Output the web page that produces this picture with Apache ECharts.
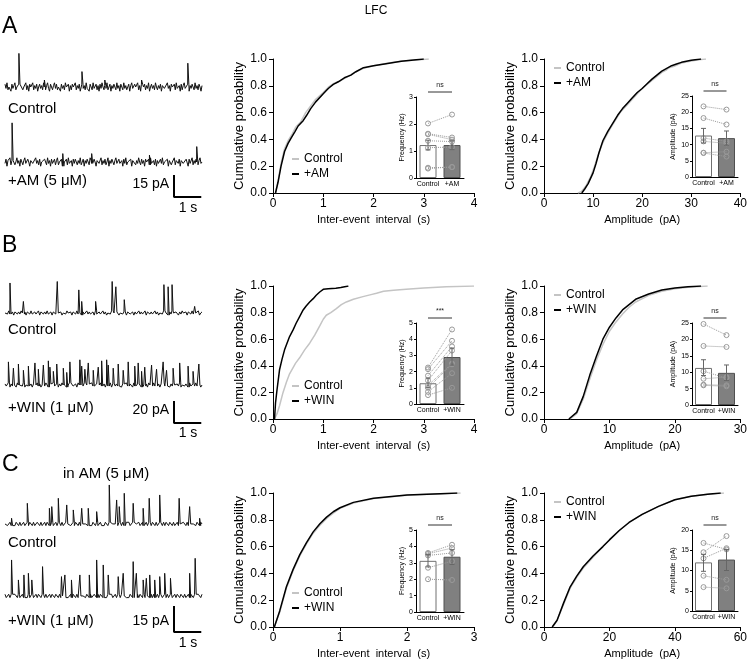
<!DOCTYPE html>
<html><head><meta charset="utf-8">
<script src="https://cdn.jsdelivr.net/npm/echarts/dist/echarts.min.js"></script>
<style>html,body{margin:0;padding:0;background:#fff}#c{width:750px;height:662px}</style>
</head><body><div id="c"></div><script>
// ---------------- DATA ----------------
// Cumulative distributions: [x, cumulative probability]
const aIeiCtrl = [[0.05,0],[0.1,0.09],[0.16,0.22],[0.23,0.33],[0.3,0.39],[0.38,0.44],[0.45,0.49],[0.55,0.53],[0.65,0.6],[0.75,0.65],[0.85,0.7],[1.0,0.75],[1.1,0.79],[1.2,0.815],[1.35,0.84],[1.5,0.87],[1.65,0.905],[1.8,0.93],[2.0,0.95],[2.3,0.97],[2.6,0.985],[2.9,0.995],[3.1,1.0]];
const aIeiDrug = [[0.05,0],[0.1,0.08],[0.16,0.2],[0.23,0.31],[0.3,0.37],[0.36,0.41],[0.44,0.46],[0.5,0.5],[0.6,0.54],[0.67,0.58],[0.75,0.63],[0.85,0.68],[1.0,0.74],[1.1,0.78],[1.2,0.81],[1.3,0.83],[1.42,0.86],[1.55,0.88],[1.65,0.905],[1.8,0.935],[2.0,0.95],[2.25,0.965],[2.55,0.983],[2.8,0.993],[3.0,1.0]];
const aAmpCtrl = [[6.9,0],[7.6,0.01],[8.5,0.05],[9.5,0.12],[10.3,0.2],[11,0.28],[11.8,0.36],[12.6,0.42],[13.5,0.48],[14.5,0.54],[15.5,0.6],[16.5,0.64],[18,0.7],[19,0.74],[20,0.78],[21,0.81],[22,0.84],[23,0.87],[24,0.9],[25,0.92],[25.5,0.935],[26.5,0.945],[28,0.97],[30,0.985],[31.5,0.995],[33,1.0]];
const aAmpDrug = [[7.7,0],[8.3,0.03],[9,0.07],[10,0.15],[10.6,0.22],[11.2,0.3],[12,0.39],[13,0.46],[14,0.52],[15,0.58],[16,0.63],[17,0.67],[18,0.71],[19,0.75],[20,0.78],[21,0.815],[22,0.85],[23,0.88],[24,0.91],[25,0.93],[26,0.95],[27,0.963],[28,0.975],[30,0.99],[32,1.0]];
const bIeiCtrl = [[0.03,0],[0.08,0.04],[0.13,0.1],[0.2,0.2],[0.27,0.28],[0.33,0.34],[0.45,0.42],[0.53,0.46],[0.63,0.52],[0.73,0.57],[0.83,0.63],[0.93,0.7],[1.0,0.75],[1.06,0.78],[1.15,0.8],[1.26,0.83],[1.36,0.86],[1.46,0.88],[1.6,0.9],[1.79,0.92],[1.95,0.935],[2.06,0.945],[2.2,0.96],[2.4,0.968],[2.65,0.975],[3.0,0.985],[3.45,0.995],[4.0,1.0]];
const bIeiDrug = [[0.03,0],[0.05,0.12],[0.08,0.22],[0.13,0.37],[0.18,0.45],[0.23,0.52],[0.33,0.62],[0.4,0.67],[0.46,0.72],[0.53,0.77],[0.6,0.82],[0.66,0.85],[0.73,0.88],[0.8,0.905],[0.86,0.93],[0.93,0.955],[1.0,0.975],[1.1,0.98],[1.25,0.983],[1.35,0.988],[1.5,1.0]];
const bAmpCtrl = [[4,0],[5,0.04],[6,0.15],[7,0.3],[8,0.44],[9,0.56],[10,0.66],[11,0.73],[12,0.79],[13,0.84],[14,0.88],[16,0.93],[18,0.96],[20,0.98],[22,0.99],[25,1.0]];
const bAmpDrug = [[3.8,0],[5,0.05],[6,0.17],[7,0.33],[8,0.47],[9,0.6],[10,0.69],[11,0.76],[12,0.82],[13,0.86],[14,0.9],[16,0.94],[18,0.97],[20,0.985],[22,0.995],[24,1.0]];
const cIeiCtrl = [[0.02,0],[0.1,0.11],[0.2,0.29],[0.3,0.42],[0.4,0.53],[0.5,0.62],[0.6,0.7],[0.7,0.76],[0.8,0.81],[0.9,0.85],[1.0,0.885],[1.2,0.925],[1.5,0.958],[2.0,0.983],[2.5,0.994],[2.8,1.0]];
const cIeiDrug = [[0.02,0],[0.1,0.12],[0.2,0.3],[0.3,0.43],[0.4,0.54],[0.5,0.63],[0.6,0.71],[0.7,0.77],[0.8,0.82],[0.9,0.86],[1.0,0.89],[1.2,0.93],[1.5,0.96],[2.0,0.985],[2.5,0.995],[2.75,1.0]];
const cAmpCtrl = [[2.7,0],[4,0.05],[6,0.17],[8,0.29],[10,0.37],[12,0.44],[15,0.52],[18,0.6],[20,0.65],[23,0.72],[26,0.78],[30,0.84],[35,0.9],[40,0.95],[45,0.975],[50,0.99],[55,1.0]];
const cAmpDrug = [[2.5,0],[4,0.05],[6,0.18],[8,0.3],[10,0.38],[12,0.45],[15,0.53],[18,0.6],[20,0.65],[23,0.72],[26,0.78],[30,0.84],[35,0.9],[40,0.95],[45,0.975],[50,0.99],[54,1.0]];

// Inset bar charts
const catsA = ['Control','+AM'];
const catsW = ['Control','+WIN'];
const aFreqBars = [1.22,1.22];
const aFreqErr = [[1.04,1.40],[1.05,1.38]];
const aFreqPairs = [[2.02,2.35],[1.64,1.50],[1.62,1.42],[1.38,1.35],[1.12,1.15],[0.38,0.40],[0.35,0.41]];
const aAmpBars = [12.8,12.0];
const aAmpErr = [[10.5,15.0],[9.8,14.2]];
const aAmpPairs = [[21.8,20.8],[18.2,16.2],[12.0,11.0],[11.0,10.4],[7.5,7.8],[7.4,6.3]];
const bFreqBars = [1.28,2.9];
const bFreqErr = [[1.0,1.6],[2.4,3.45]];
const bFreqPairs = [[2.25,4.6],[2.15,3.9],[1.75,3.55],[1.45,3.3],[1.15,2.5],[1.0,2.45],[0.75,1.9],[0.55,1.0]];
const bAmpBars = [11.3,9.8];
const bAmpErr = [[9.0,13.8],[7.5,12.2]];
const bAmpPairs = [[24.7,21.3],[18.0,17.7],[10.3,8.2],[8.0,8.5],[6.2,6.0],[6.0,5.7]];
const cFreqBars = [3.12,3.37];
const cFreqErr = [[2.75,3.5],[2.9,3.8]];
const cFreqPairs = [[3.6,4.1],[3.55,3.9],[3.45,3.6],[2.7,3.1],[2.0,1.95]];
const cAmpBars = [12.0,12.7];
const cAmpErr = [[9.8,14.0],[10.0,15.2]];
const cAmpPairs = [[16.8,15.2],[14.5,18.5],[13.0,15.5],[8.7,7.7],[5.9,5.6]];
const sigLabels = ['ns','ns','***','ns','ns','ns'];

// Example current traces: baseline noise samples (pA) and events [time s, amplitude pA]
const traceDur = 7.5;
const aCtrlNoise = [2,-1,3,-2,0,1,-3,2,-1,1,3,-2,0,-1,2,-3,1,2,-2,0,
 -1,3,-2,1,-3,2,0,-1,3,-2,1,-1,2,-3,0,2,-1,1,-2,3,
 0,-2,1,3,-1,-3,2,0,-2,1,3,-1,2,-2,0,1,-3,2,-1,1,
 -2,3,0,-1,2,-3,1,-2,2,0,-1,3,-2,1,-1,2,-3,0,2,-1,
 1,-2,3,-1,0,-3,2,1,-2,3,-1,0,2,-2,1,-3,2,-1,3,0,
 -2,1,-1,3,-2,0,2,-3,1,-1,2,0,-2,3,-1,1,-3,2,0,-2,
 3,-1,1,-2,0,2,-3,1,3,-1,-2,2,0,-1,3,-2,1,-3,2,-1,
 0,2,-2,1,-1,3,-3,0,2,-1,1,-2,3,0,-2,1,-1,2,-3,1,
 2,-1,0,-2,3,-1,1,-3,2,0,-1,2,-2,3,-1,0,1,-3,2,-2,
 1,3,-1,-2,0,2,-3,1,-1,2,0,-2,3,-1,1,-2,2,0,-3,1];
const aCtrlSpikes = [[0.53,24],[1.5,5],[2.93,11],[3.8,5],[5.2,5],[6.96,17]];
const aDrugNoise = [-1,2,-3,1,0,3,-2,1,-1,2,-2,0,3,-1,1,-3,2,0,-2,1,
 3,-1,-2,2,0,-3,1,2,-1,0,-2,3,-1,1,-2,2,-3,0,1,-1,
 2,0,-2,3,-1,1,-3,2,-1,0,2,-2,1,3,-2,0,-1,2,-3,1,
 0,-1,2,-2,3,-1,0,1,-3,2,-1,2,0,-2,1,-1,3,-2,0,2,
 -3,1,-1,2,0,-2,3,1,-1,-2,2,0,-3,1,2,-1,0,3,-2,1,
 -1,2,-2,0,3,-3,1,-1,2,0,-2,1,3,-1,-2,2,-1,0,1,-3,
 2,-1,3,-2,0,1,-1,2,-3,1,0,2,-2,1,-1,3,0,-2,2,-1,
 1,-3,2,0,-1,2,-2,3,-1,0,1,-2,2,-3,1,-1,0,2,-1,3,
 -2,0,1,-1,2,-3,1,2,-2,0,-1,3,-2,1,0,-1,2,-3,1,2,
 -1,0,-2,2,1,-3,2,-1,0,3,-2,1,-1,2,0,-2,1,3,-1,0];
const aDrugSpikes = [[0.27,28],[2.2,6],[3.3,6],[5.5,5],[7.3,11]];
const bCtrlNoise = [0,1,-1,2,-1,0,1,-2,1,0,-1,1,-1,2,0,-1,1,-2,1,0,
 -1,2,-1,0,1,-1,0,2,-2,1,0,-1,1,-1,2,-1,0,1,-2,1,
 1,-1,0,2,-1,1,-2,0,1,-1,2,0,-1,1,-2,1,0,-1,2,-1,
 0,1,-2,1,-1,0,2,-1,1,-1,0,1,-2,2,-1,0,1,-1,0,2,
 -1,1,-2,0,1,-1,2,-1,0,1,-1,2,-2,0,1,-1,1,0,-2,1,
 2,-1,0,1,-2,1,-1,0,2,-1,1,-1,0,2,-2,1,0,-1,1,-1,
 0,2,-1,1,-2,0,1,-1,2,-1,0,1,-2,1,-1,2,0,-1,1,0,
 -2,1,-1,2,0,-1,1,-2,1,0,-1,2,-1,0,1,-1,2,-2,0,1];
const bCtrlSpikes = [[0.19,28.6],[0.70,11],[1.99,30],[2.81,22],[2.92,11],[3.45,11],[4.08,30],[4.22,25],[4.54,12.7],[6.05,27],[6.21,25],[6.36,27],[7.22,6.3]];
const bDrugNoise = [1,-1,0,2,-2,1,-1,0,1,-2,2,0,-1,1,-1,2,-2,0,1,-1,
 0,1,-2,1,0,-1,2,-1,1,-2,0,1,-1,2,0,-2,1,-1,0,2,
 -1,0,1,-2,1,-1,2,0,-1,1,-2,0,2,-1,1,-1,0,1,-2,2,
 0,-1,1,-1,2,-2,0,1,-1,0,2,-1,1,-2,1,0,-1,2,-1,0,
 1,-2,1,-1,0,2,-2,1,0,-1,1,-1,2,0,-2,1,-1,0,2,-1,
 -1,1,0,-2,2,-1,0,1,-1,2,-2,1,0,-1,1,-2,2,0,-1,1,
 2,-1,-1,0,1,-2,1,0,2,-1,-1,1,0,-2,1,-1,2,0,-1,1,
 -1,2,-2,0,1,-1,1,0,-2,2,-1,0,1,-1,2,-1,0,1,-2,0];
const bDrugSpikes = [[0.13,22],[0.32,16],[0.51,20],[0.70,14],[0.89,18],[1.14,21],[1.27,15],[1.46,19],[1.65,23],[1.71,17],[1.84,13],[1.97,20],[2.22,16],[2.35,12],[2.47,22],[2.85,24],[2.92,18],[3.04,15],[3.17,21],[3.36,14],[3.55,17],[3.68,23],[3.87,24],[3.93,19],[4.12,16],[4.31,20],[4.5,14],[4.69,22],[4.94,18],[5.07,21],[5.2,13],[5.32,17],[5.58,19],[5.77,15],[6.02,22],[6.15,14],[6.4,16],[6.65,21],[6.97,18],[7.16,13],[7.38,20]];
const cCtrlNoise = [0,1,-1,0,1,-1,1,0,-1,1,0,-1,1,-1,0,1,-1,0,1,-1,
 1,0,-1,1,-1,0,1,0,-1,1,-1,0,1,-1,1,0,-1,0,1,-1,
 0,1,-1,1,0,-1,1,-1,0,1,0,-1,1,-1,0,1,-1,1,0,-1,
 1,-1,0,1,-1,0,1,-1,1,0,-1,1,0,-1,1,-1,0,1,-1,0,
 -1,1,0,-1,1,-1,1,0,-1,0,1,-1,1,0,-1,1,-1,0,1,0,
 1,-1,0,1,-1,1,0,-1,1,-1,0,1,-1,0,1,-1,1,0,-1,1,
 0,-1,1,-1,0,1,0,-1,1,-1,1,0,-1,1,0,-1,1,-1,0,1,
 -1,0,1,-1,1,0,-1,1,-1,0,1,-1,0,1,-1,1,0,-1,1,0];
const cCtrlSpikes = [[0.25,3.4],[0.85,12.4],[1.69,9.4],[1.78,10.4],[2.03,15.4],[2.35,11.4],[2.6,8.4],[2.92,9.4],[3.17,9.4],[3.49,7.4],[3.97,23.4],[4.25,14.4],[4.35,10.4],[4.54,18.4],[4.88,12.4],[5.26,9.4],[5.49,15.4],[5.89,17.4],[6.63,15.4],[7.03,10.4],[7.41,3.4]];
const cDrugNoise = [1,-1,0,1,-1,1,-1,0,1,0,-1,1,-1,0,1,-1,1,0,-1,1,
 -1,0,1,-1,0,1,-1,1,0,-1,1,0,-1,1,-1,0,1,-1,1,0,
 -1,1,0,-1,1,-1,0,1,-1,1,0,-1,0,1,-1,1,0,-1,1,-1,
 0,1,-1,0,1,-1,1,0,-1,1,-1,0,1,0,-1,1,-1,1,0,-1,
 1,0,-1,1,-1,0,1,-1,0,1,-1,1,0,-1,1,0,-1,1,-1,0,
 -1,1,0,-1,1,0,-1,1,-1,1,0,-1,1,-1,0,1,0,-1,1,-1,
 1,-1,0,1,-1,1,0,-1,0,1,-1,1,-1,0,1,-1,0,1,-1,1,
 0,-1,1,0,-1,1,-1,0,1,-1,1,0,-1,1,-1,0,1,0,-1,1];
const cDrugSpikes = [[0.25,21.6],[0.51,9.6],[0.72,12.6],[0.89,13.6],[1.02,9.6],[1.43,17.6],[2.15,11.6],[2.28,12.6],[2.53,9.6],[2.85,12.6],[3.21,12.6],[3.49,21.6],[3.74,18.6],[3.93,12.6],[4.31,11.6],[4.5,13.6],[4.88,20.6],[5.0,13.6],[5.26,9.6],[5.38,10.6],[5.51,12.6],[5.7,9.6],[5.89,11.6],[6.08,13.6],[6.3,10.6],[7.03,13.6],[7.24,22.6]];
// Scale bars [pA, s]
const scaleA = [15,1], scaleB = [20,1], scaleC = [15,1];

// ---------------- BUILD ----------------
const FONT = '"Liberation Sans", Arial, Helvetica, sans-serif';
const opt = {animation:false, backgroundColor:'#fff', textStyle:{fontFamily:FONT},
  grid:[], xAxis:[], yAxis:[], series:[], legend:[], graphic:[]};
function addGrid(l,t,w,h){ opt.grid.push({left:l,top:t,width:w,height:h,containLabel:false}); return opt.grid.length-1; }

function cdf(l,t,w,h,xmax,xint,xname,ctrl,drug,drugName,legL,legT){
  const gi = addGrid(l,t,w,h);
  opt.xAxis.push({type:'value',gridIndex:gi,min:0,max:xmax,interval:xint,name:xname,nameLocation:'middle',nameGap:21,
    nameTextStyle:{fontSize:11,color:'#000',fontFamily:FONT},
    axisLine:{show:true,lineStyle:{color:'#000',width:1}},axisTick:{show:true,length:4,lineStyle:{color:'#000'}},
    axisLabel:{fontSize:12,color:'#000',margin:5,fontFamily:FONT},splitLine:{show:false}});
  opt.yAxis.push({type:'value',gridIndex:gi,min:0,max:1,interval:0.2,name:'Cumulative probability',nameLocation:'middle',nameGap:27,
    nameTextStyle:{fontSize:13,color:'#000',fontFamily:FONT},
    axisLine:{show:true,lineStyle:{color:'#000',width:1}},axisTick:{show:true,length:4,lineStyle:{color:'#000'}},
    axisLabel:{fontSize:12,color:'#000',margin:6,fontFamily:FONT,formatter:v=>v.toFixed(1)},splitLine:{show:false}});
  opt.series.push({type:'line',name:'Control',xAxisIndex:gi,yAxisIndex:gi,data:ctrl,showSymbol:false,color:'#c4c4c4',
    lineStyle:{color:'#c4c4c4',width:1.5},z:2,silent:true});
  opt.series.push({type:'line',name:drugName,xAxisIndex:gi,yAxisIndex:gi,data:drug,showSymbol:false,color:'#000',
    lineStyle:{color:'#000',width:1.5},z:3,silent:true});
  opt.legend.push({left:legL,top:legT,orient:'vertical',padding:0,itemWidth:7,itemHeight:2,itemGap:3,selectedMode:false,
    textStyle:{fontSize:12,color:'#000',fontFamily:FONT},
    data:[{name:'Control',icon:'rect'},{name:drugName,icon:'rect'}]});
}

function inset(l,t,w,h,cats,ymax,yint,yname,nameGap,bars,err,pairs,sig){
  const gi = addGrid(l,t,w,h);
  opt.xAxis.push({type:'category',gridIndex:gi,data:cats,axisLine:{show:true,lineStyle:{color:'#000',width:1}},
    axisTick:{show:false},axisLabel:{fontSize:7,color:'#000',margin:3,interval:0,fontFamily:FONT},splitLine:{show:false}});
  opt.yAxis.push({type:'value',gridIndex:gi,min:0,max:ymax,interval:yint,name:yname,nameLocation:'middle',nameGap:nameGap,
    nameTextStyle:{fontSize:7,color:'#000',fontFamily:FONT},
    axisLine:{show:true,lineStyle:{color:'#000',width:1}},axisTick:{show:true,length:2,lineStyle:{color:'#000'}},
    axisLabel:{fontSize:7,color:'#000',margin:3,fontFamily:FONT},splitLine:{show:false}});
  opt.series.push({type:'bar',xAxisIndex:gi,yAxisIndex:gi,barWidth:17,silent:true,z:2,
    data:bars.map((v,i)=>({value:v,itemStyle:i===0?{color:'#fff',borderColor:'#707070',borderWidth:1}:{color:'#808080',borderColor:'#505050',borderWidth:1}}))});
  pairs.forEach(p=>{
    opt.series.push({type:'line',xAxisIndex:gi,yAxisIndex:gi,silent:true,z:4,
      data:[[cats[0],p[0]],[cats[1],p[1]]],symbol:'circle',symbolSize:5,showSymbol:true,
      itemStyle:{color:'rgba(255,255,255,0)',borderColor:'#9a9a9a',borderWidth:1},
      lineStyle:{type:'dotted',color:'#9a9a9a',width:1}});
  });
  opt.series.push({type:'custom',xAxisIndex:gi,yAxisIndex:gi,silent:true,z:5,encode:{x:0,y:[1,2]},
    data:err.map((e,i)=>[i,e[0],e[1]]),
    renderItem:(params,api)=>{
      const x=api.value(0), lo=api.coord([x,api.value(1)]), hi=api.coord([x,api.value(2)]), c=2.5;
      const st={stroke:'#666',lineWidth:1};
      return {type:'group',children:[
        {type:'line',shape:{x1:lo[0],y1:lo[1],x2:hi[0],y2:hi[1]},style:st},
        {type:'line',shape:{x1:hi[0]-c,y1:hi[1],x2:hi[0]+c,y2:hi[1]},style:st},
        {type:'line',shape:{x1:lo[0]-c,y1:lo[1],x2:lo[0]+c,y2:lo[1]},style:st}]};
    }});
  const cw = w/2, x1 = l+cw/2, x2 = l+cw*1.5;
  opt.graphic.push({type:'line',shape:{x1:x1,y1:t-5,x2:x2,y2:t-5},style:{stroke:'#333',lineWidth:1}});
  opt.graphic.push({type:'text',x:(x1+x2)/2,y:t-12,style:{text:sig,fontSize:7,fontFamily:FONT,fill:'#222',align:'center',verticalAlign:'middle'}});
}

// A trace: the noise samples, with each event drawn as a sharp peak rising from and returning to the local baseline sample
function traceData(noise,spikes){
  const dt = traceDur/(noise.length-1), pre = 0.006, post = 0.04;
  const pts = noise.map((v,i)=>[i*dt,v]).filter(p=>!spikes.some(s=>p[0]>s[0]-pre && p[0]<s[0]+post));
  spikes.forEach(s=>{
    const nv = noise[Math.min(noise.length-1, Math.round(s[0]/dt))];
    pts.push([s[0]-pre,nv],[s[0],s[1]],[s[0]+post,nv]);
  });
  pts.sort((a,b)=>a[0]-b[0]);
  return pts;
}
function trace(l,t,w,h,ymin,ymax,noise,spikes){
  const gi = addGrid(l,t,w,h);
  opt.xAxis.push({type:'value',gridIndex:gi,min:0,max:traceDur,show:false});
  opt.yAxis.push({type:'value',gridIndex:gi,min:ymin,max:ymax,show:false});
  opt.series.push({type:'line',xAxisIndex:gi,yAxisIndex:gi,data:traceData(noise,spikes),showSymbol:false,silent:true,
    lineStyle:{color:'#111',width:1}});
}
function scalebar(l,t,w,h,sb){
  const gi = addGrid(l,t,w,h);
  opt.xAxis.push({type:'value',gridIndex:gi,min:0,max:sb[1],show:false});
  opt.yAxis.push({type:'value',gridIndex:gi,min:0,max:sb[0],show:false});
  opt.series.push({type:'line',xAxisIndex:gi,yAxisIndex:gi,data:[[0,sb[0]],[0,0],[sb[1],0]],showSymbol:false,silent:true,
    lineStyle:{color:'#000',width:2,cap:'square'}});
}
function txt(x,y,s,size,align){
  opt.graphic.push({type:'text',x:x,y:y,style:{text:s,fontSize:size,fontFamily:FONT,fill:'#000',align:align||'left',verticalAlign:'middle'}});
}

// Layout
const TR_L = 5, TR_W = 197, PXS = TR_W/traceDur;
// Row A
trace(TR_L, 47.8, TR_W, 47.6, -6, 28, aCtrlNoise, aCtrlSpikes);
trace(TR_L, 122.8, TR_W, 47.6, -6, 28, aDrugNoise, aDrugSpikes);
scalebar(174, 176, PXS, 21, scaleA);
cdf(273, 59, 201, 134, 4, 1, 'Inter-event  interval  (s)', aIeiCtrl, aIeiDrug, '+AM', 292, 153);
cdf(544, 59, 197, 134, 40, 10, 'Amplitude  (pA)', aAmpCtrl, aAmpDrug, '+AM', 554, 62);
inset(416, 97, 48, 81, catsA, 3, 1, 'Frequency (Hz)', 10, aFreqBars, aFreqErr, aFreqPairs, sigLabels[0]);
inset(692, 96, 46, 81, catsA, 25, 5, 'Amplitude (pA)', 15, aAmpBars, aAmpErr, aAmpPairs, sigLabels[1]);
// Row B
trace(TR_L, 279.4, TR_W, 39.9, -6, 32, bCtrlNoise, bCtrlSpikes);
trace(TR_L, 351.4, TR_W, 39.9, -6, 32, bDrugNoise, bDrugSpikes);
scalebar(174, 402, PXS, 21, scaleB);
cdf(273, 286, 201, 133, 4, 1, 'Inter-event  interval  (s)', bIeiCtrl, bIeiDrug, '+WIN', 292, 380);
cdf(544, 286, 197, 133, 30, 10, 'Amplitude  (pA)', bAmpCtrl, bAmpDrug, '+WIN', 554, 289);
inset(416, 323, 48, 81, catsW, 5, 1, 'Frequency (Hz)', 10, bFreqBars, bFreqErr, bFreqPairs, sigLabels[2]);
inset(692, 323, 46, 82, catsW, 25, 5, 'Amplitude (pA)', 15, bAmpBars, bAmpErr, bAmpPairs, sigLabels[3]);
// Row C
trace(TR_L, 482.3, TR_W, 48.3, -4, 25, cCtrlNoise, cCtrlSpikes);
trace(TR_L, 554.3, TR_W, 48.3, -4, 25, cDrugNoise, cDrugSpikes);
scalebar(174, 607, PXS, 25, scaleC);
cdf(273, 493, 201, 134, 3, 1, 'Inter-event  interval  (s)', cIeiCtrl, cIeiDrug, '+WIN', 292, 587);
cdf(544, 493, 197, 134, 60, 20, 'Amplitude  (pA)', cAmpCtrl, cAmpDrug, '+WIN', 554, 496);
inset(416, 530, 48, 82, catsW, 5, 1, 'Frequency (Hz)', 10, cFreqBars, cFreqErr, cFreqPairs, sigLabels[4]);
inset(692, 530, 46, 81, catsW, 20, 5, 'Amplitude (pA)', 15, cAmpBars, cAmpErr, cAmpPairs, sigLabels[5]);

// Texts
txt(376, 11, 'LFC', 12, 'center');
txt(2, 27, 'A', 23); txt(2, 246, 'B', 23); txt(2, 465, 'C', 23);
txt(8, 109, 'Control', 15); txt(8, 181, '+AM (5 μM)', 15);
txt(169, 184, '15 pA', 14, 'right'); txt(188, 208, '1 s', 14, 'center');
txt(8, 330, 'Control', 15); txt(8, 408, '+WIN (1 μM)', 15);
txt(169, 410, '20 pA', 14, 'right'); txt(188, 433, '1 s', 14, 'center');
txt(63, 474, 'in AM (5 μM)', 15); txt(8, 543, 'Control', 15); txt(8, 621, '+WIN (1 μM)', 15);
txt(169, 621, '15 pA', 14, 'right'); txt(188, 643, '1 s', 14, 'center');

const chart = echarts.init(document.getElementById('c'), null, {renderer:'canvas'});
chart.setOption(opt);
</script></body></html>
